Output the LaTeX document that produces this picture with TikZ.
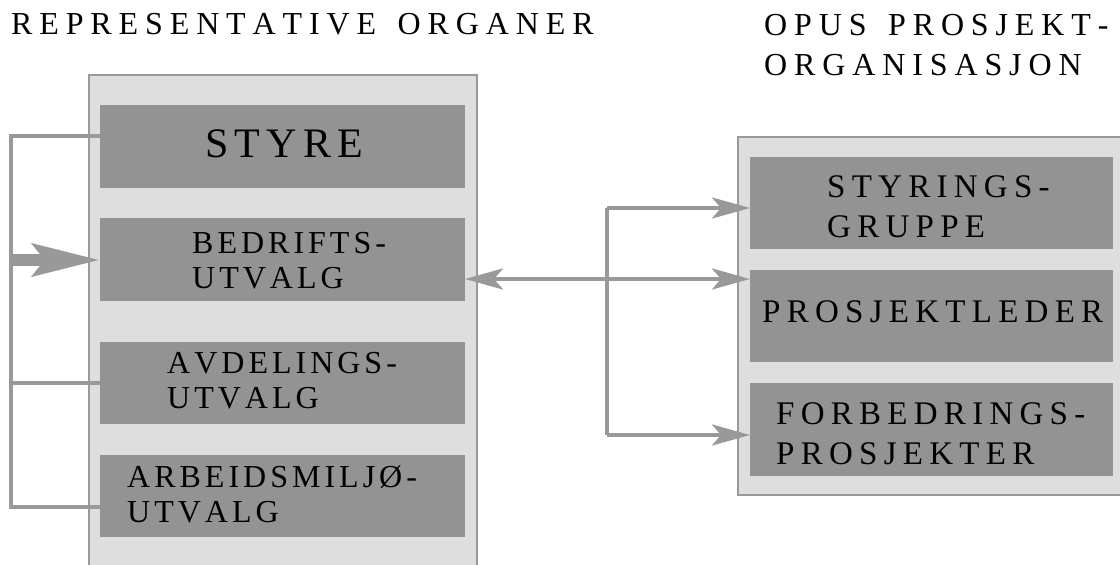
\documentclass[tikz,border=0pt]{standalone}
\usepackage{fontspec}
\setmainfont{Liberation Serif}
\usetikzlibrary{arrows.meta}
\newfontfamily\titlefont[LetterSpace=21.5,Kerning=Off]{Liberation Serif}
\newfontfamily\lboxfont[LetterSpace=12.5,Kerning=Off]{Liberation Serif}
\newfontfamily\rboxfont[LetterSpace=19,Kerning=Off]{Liberation Serif}
\newfontfamily\bigboxfont[LetterSpace=15,Kerning=Off]{Liberation Serif}
\definecolor{panelfill}{HTML}{DEDEDE}
\definecolor{panelline}{HTML}{9A9A9A}
\definecolor{boxfill}{HTML}{939393}
\definecolor{connline}{HTML}{999999}
\tikzset{
  panel/.style={draw=panelline, line width=2pt, fill=panelfill, inner sep=0pt, outer sep=0pt, anchor=north west},
  orgbox/.style={fill=boxfill, draw=none, inner sep=0pt, outer sep=0pt, anchor=north west},
  ttl/.style={anchor=base west, inner sep=0pt, font=\titlefont\fontsize{32}{40}\selectfont},
  ltxt/.style={anchor=base west, inner sep=0pt, font=\lboxfont\fontsize{32}{35.5}\selectfont},
  rtxt/.style={anchor=base west, inner sep=0pt, font=\rboxfont\fontsize{33}{40.5}\selectfont},
  btxt/.style={anchor=base west, inner sep=0pt, font=\bigboxfont\fontsize{42}{46}\selectfont},
  conn/.style={draw=connline, line width=4pt},
  arr/.style={conn, -{Stealth[length=38pt, width=21pt, inset=9pt]}},
  darr/.style={conn, {Stealth[length=38pt, width=21pt, inset=9pt]}-{Stealth[length=38pt, width=21pt, inset=9pt]}},
  fatarr/.style={draw=connline, line width=12pt, -{Stealth[length=67pt, width=32pt, inset=12pt]}}
}
\newcommand{\wsp}{\hspace{21.5pt}}
\begin{document}
\begin{tikzpicture}[x=1pt, y=-1pt]
\useasboundingbox (0,0) rectangle (1120,565);
% titles
\node[ttl] (tleft) at (11,34) {REPRESENTATIVE\wsp ORGANER};
\node[ttl] (tright) at (764,35) {\vtop{\hbox{OPUS\wsp PROSJEKT-}\hbox{ORGANISASJON}}};
% panels
\node[panel, minimum width=388pt, minimum height=500pt] (lpanel) at (89,75) {};
\node[panel, minimum width=390pt, minimum height=358pt] (rpanel) at (738,137) {};
% left boxes
\node[orgbox, minimum width=365pt, minimum height=83pt] (sty) at (100,105) {};
\node[orgbox, minimum width=365pt, minimum height=83pt] (bed) at (100,218) {};
\node[orgbox, minimum width=365pt, minimum height=82pt] (avd) at (100,342) {};
\node[orgbox, minimum width=365pt, minimum height=82pt] (arb) at (100,455) {};
% right boxes
\node[orgbox, minimum width=363pt, minimum height=92pt] (stg) at (750,157) {};
\node[orgbox, minimum width=363pt, minimum height=92pt] (pl) at (750,270) {};
\node[orgbox, minimum width=363pt, minimum height=93pt] (fp) at (750,383) {};
% labels
\node[btxt] (lsty) at (205,157) {STYRE};
\node[ltxt] (lbed) at (192,253) {\vtop{\hbox{BEDRIFTS-}\hbox{UTVALG}}};
\node[ltxt] (lavd) at (167,373) {\vtop{\hbox{AVDELINGS-}\hbox{UTVALG}}};
\node[ltxt] (larb) at (127,487) {\vtop{\hbox{ARBEIDSMILJØ-}\hbox{UTVALG}}};
\node[rtxt] (lstg) at (827,197) {\vtop{\hbox{STYRINGS-}\hbox{GRUPPE}}};
\node[rtxt] (lpl) at (762,322) {PROSJEKTLEDER};
\node[rtxt] (lfp) at (776,424) {\vtop{\hbox{FORBEDRINGS-}\hbox{PROSJEKTER}}};
% left connectors
\coordinate (ltop) at (11,136);
\coordinate (lmid) at (11,260);
\coordinate (lavdc) at (11,383);
\coordinate (lbot) at (11,507);
\draw[conn] (sty.west |- ltop) -- (ltop) -- (lbot) -- (arb.west |- lbot);
\draw[conn] (lavdc) -- (avd.west |- lavdc);
\draw[fatarr] (lmid) -- (bed.west |- lmid);
% right connectors
\coordinate (mid) at (607,279);
\coordinate (rtop) at (607,208);
\coordinate (rbot) at (607,435);
\draw[darr] (bed.east |- mid) -- (pl.west |- mid);
\draw[conn] (rtop) -- (rbot);
\draw[arr] (rtop) -- (stg.west |- rtop);
\draw[arr] (rbot) -- (fp.west |- rbot);
\end{tikzpicture}
\end{document}
